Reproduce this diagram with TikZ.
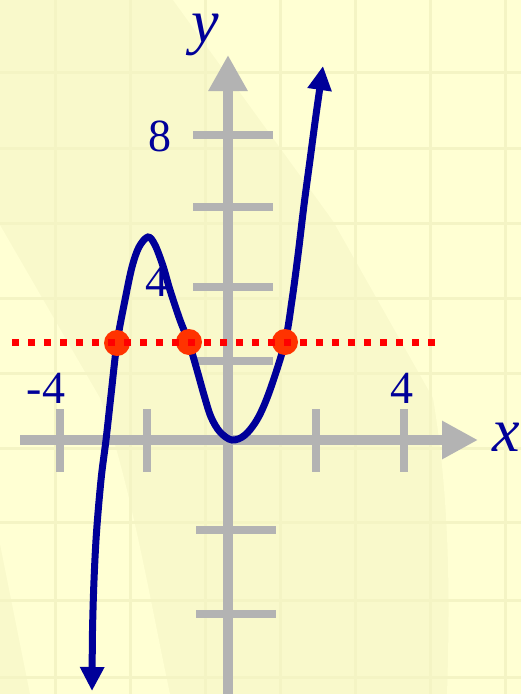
\documentclass[tikz,border=0pt]{standalone}
\usepackage{fontspec}
\setmainfont{Liberation Serif}
\usetikzlibrary{arrows.meta}
\definecolor{bg}{RGB}{249,249,203}
\definecolor{bglight}{RGB}{255,255,211}
\definecolor{gridc}{RGB}{244,244,196}
\definecolor{axisgray}{RGB}{179,179,179}
\definecolor{navy}{RGB}{0,0,153}
\definecolor{dotred}{RGB}{255,51,0}
\tikzset{
  axisline/.style={draw=axisgray, line width=10pt},
  ticky/.style={draw=axisgray, line width=7.5pt},
  tickx/.style={draw=axisgray, line width=8pt},
  numlabel/.style={text=navy, font=\fontsize{46}{50}\selectfont, inner sep=0pt},
  varlabel/.style={text=navy, font=\fontsize{62}{66}\selectfont\itshape, inner sep=0pt},
  gridline/.style={draw=gridc, line width=3pt},
  curve/.style={draw=navy, line width=7pt},
  hitdot/.style={circle, fill=dotred, minimum size=26pt, inner sep=0pt},
  levelline/.style={draw=red, line width=7pt, dash pattern=on 7pt off 9pt}
}
\begin{document}
\begin{tikzpicture}[x=1pt,y=-1pt]
\useasboundingbox (0,0) rectangle (521,694);
% background
\fill[bg] (0,0) rectangle (521,694);
\fill[bglight] (173,0) -- (333,221) -- (433,398) .. controls (450,500) and (450,600) .. (447,694) -- (521,694) -- (521,0) -- cycle;
\fill[bglight] (0,225) -- (100,398) .. controls (130,480) and (150,600) .. (170,694) -- (30,694) -- (0,544) -- cycle;
% grid
\foreach \gx in {55,130,205,280,355,430,505} \draw[gridline] (\gx,0) -- (\gx,694);
\foreach \gy in {72,148,223,298,373,448,522,600,677} \draw[gridline] (0,\gy) -- (521,\gy);
% axes
\coordinate (xl) at (20,440);
\coordinate (xr) at (478,440);
\coordinate (yb) at (228,694);
\coordinate (yt) at (228,55);
\draw[axisline, -{Triangle[length=36pt,width=36pt]}] (xl) -- (xr);
\draw[axisline, -{Triangle[length=36pt,width=37pt]}] (yb) -- (yt);
% x ticks
\foreach \tx/\nm in {60/a,147/b,316/c,404/d} {
  \coordinate (tx\nm1) at (\tx,409);
  \coordinate (tx\nm2) at (\tx,472);
  \draw[tickx] (tx\nm1) -- (tx\nm2);
}
% y ticks
\foreach \ty/\nm in {135/a,207/b,287/c,361/d} {
  \coordinate (ty\nm1) at (193,\ty);
  \coordinate (ty\nm2) at (273,\ty);
  \draw[ticky] (ty\nm1) -- (ty\nm2);
}
\foreach \ty/\nm in {530/e,614/f} {
  \coordinate (ty\nm1) at (196,\ty);
  \coordinate (ty\nm2) at (276,\ty);
  \draw[ticky] (ty\nm1) -- (ty\nm2);
}
% labels
\node[numlabel] (l8) at (160,136) {8};
\node[numlabel] (l4y) at (157,281) {4};
\node[numlabel] (lm4) at (46,388) {-4};
\node[numlabel] (l4x) at (402,388) {4};
\node[varlabel] (ly) at (205,35) {y};
\node[varlabel, anchor=west] (lx) at (492,437) {x};
% curve
\draw[curve, {Triangle[length=24pt,width=23pt]}-{Triangle[length=24pt,width=23pt]}]
  plot[smooth, tension=0.55] coordinates {
  (92,691) (93,610) (96,540) (101,480) (106,440) (111,395) (117,343)
  (125,300) (132,267) (139,247) (148,237) (155,245) (163,266) (170,290)
  (180,320) (189,343) (197,370) (204,395) (211,417) (220,432) (232,440)
  (245,435) (258,418) (270,390) (285,342) (292,300) (298,255) (304,205)
  (310,160) (316,115) (323,66)};
% intersection dots
\node[hitdot] (p1) at (117,343) {};
\node[hitdot] (p2) at (189,342) {};
\node[hitdot] (p3) at (285,342) {};
% dotted level line
\coordinate (ll) at (12,342);
\coordinate (lr) at (438,342);
\draw[levelline] (ll) -- (lr);
\end{tikzpicture}
\end{document}
